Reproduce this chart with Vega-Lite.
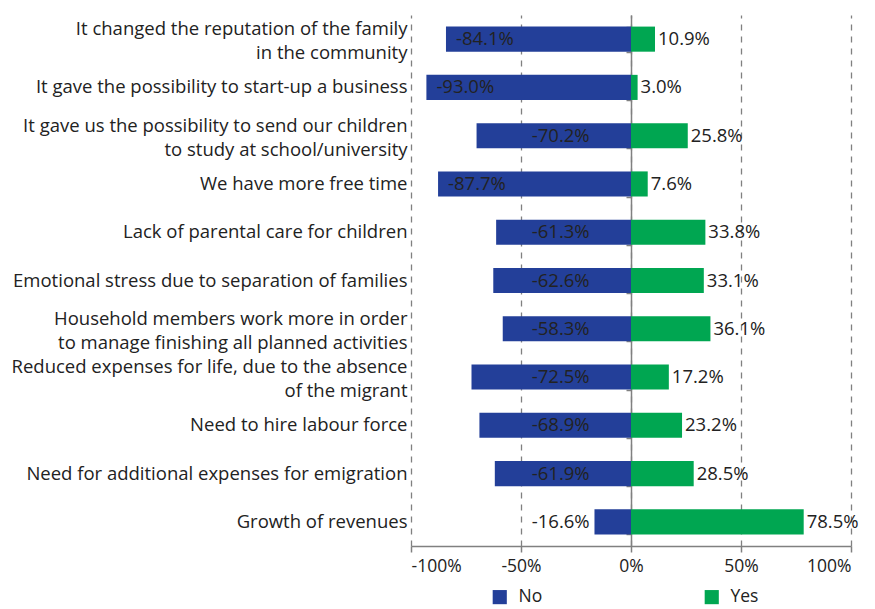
{
  "$schema": "https://vega.github.io/schema/vega-lite/v6.json",
  "width": 440,
  "height": 531,
  "autosize": {"type": "none"},
  "padding": {"left": 411, "top": 15, "right": 24, "bottom": 63},
  "background": "white",
  "config": {
    "view": {"stroke": null},
    "font": "Open Sans"
  },
  "data": {
    "values": [
      {"category": "It changed the reputation of the family|in the community", "response": "No", "value": -84.1},
      {"category": "It changed the reputation of the family|in the community", "response": "Yes", "value": 10.9},
      {"category": "It gave the possibility to start-up a business", "response": "No", "value": -93.0},
      {"category": "It gave the possibility to start-up a business", "response": "Yes", "value": 3.0},
      {"category": "It gave us the possibility to send our children|to study at school/university", "response": "No", "value": -70.2},
      {"category": "It gave us the possibility to send our children|to study at school/university", "response": "Yes", "value": 25.8},
      {"category": "We have more free time", "response": "No", "value": -87.7},
      {"category": "We have more free time", "response": "Yes", "value": 7.6},
      {"category": "Lack of parental care for children", "response": "No", "value": -61.3},
      {"category": "Lack of parental care for children", "response": "Yes", "value": 33.8},
      {"category": "Emotional stress due to separation of families", "response": "No", "value": -62.6},
      {"category": "Emotional stress due to separation of families", "response": "Yes", "value": 33.1},
      {"category": "Household members work more in order|to manage finishing all planned activities", "response": "No", "value": -58.3},
      {"category": "Household members work more in order|to manage finishing all planned activities", "response": "Yes", "value": 36.1},
      {"category": "Reduced expenses for life, due to the absence|of the migrant", "response": "No", "value": -72.5},
      {"category": "Reduced expenses for life, due to the absence|of the migrant", "response": "Yes", "value": 17.2},
      {"category": "Need to hire labour force", "response": "No", "value": -68.9},
      {"category": "Need to hire labour force", "response": "Yes", "value": 23.2},
      {"category": "Need for additional expenses for emigration", "response": "No", "value": -61.9},
      {"category": "Need for additional expenses for emigration", "response": "Yes", "value": 28.5},
      {"category": "Growth of revenues", "response": "No", "value": -16.6},
      {"category": "Growth of revenues", "response": "Yes", "value": 78.5}
    ]
  },
  "transform": [
    {"calculate": "replace(format(datum.value, '.1f'), '\u2212', '-') + '%'", "as": "label"}
  ],
  "resolve": {"axis": {"y": "independent"}},
  "layer": [
    {
      "mark": {"type": "bar"},
      "encoding": {
        "y": {
          "field": "category", "type": "nominal", "sort": null,
          "scale": {"paddingInner": 0.48, "paddingOuter": 0.24},
          "axis": {
            "title": null, "domain": false, "ticks": false, "labelPadding": 4,
            "labelFont": "Open Sans", "labelFontSize": 18.5, "labelColor": "#222",
            "labelExpr": "split(datum.label, '|')", "labelLineHeight": 24,
            "labelBaseline": "middle", "labelLimit": 420,
            "labelOffset": {"expr": "indexof(datum.value, '|') >= 0 ? -10 : 0"}
          }
        },
        "x": {
          "field": "value", "type": "quantitative", "stack": null,
          "scale": {"domain": [-100, 100], "nice": false},
          "axis": {
            "title": null, "values": [-100, -50, 0, 50, 100],
            "labelExpr": "datum.value + '%'", "labelFontSize": 17.5,
            "labelFont": "Open Sans", "labelColor": "#222",
            "domainColor": "#808080", "domainWidth": 1.5,
            "tickColor": "#808080", "tickSize": 6, "tickWidth": 1.5, "labelPadding": 5,
            "grid": true, "gridColor": "#808080", "gridDash": [6, 6], "gridWidth": 1.3
          }
        },
        "color": {
          "field": "response", "type": "nominal",
          "scale": {"domain": ["No", "Yes"], "range": ["#233F99", "#00A651"]},
          "legend": {
            "title": null, "orient": "none", "direction": "horizontal",
            "legendX": 80, "legendY": 573, "columnPadding": 160,
            "symbolType": "square", "symbolSize": 200, "symbolStrokeWidth": 0,
            "labelOffset": 10, "labelFont": "Open Sans", "labelFontSize": 17.5, "labelColor": "#222"
          }
        }
      }
    },
    {
      "transform": [{"filter": "datum.response == 'No' && datum.value < -80"}],
      "mark": {"type": "text", "align": "left", "dx": 10, "fontSize": 18.5, "color": "#222", "font": "Open Sans"},
      "encoding": {
        "y": {"field": "category", "type": "nominal", "sort": null, "axis": null},
        "x": {"field": "value", "type": "quantitative"},
        "text": {"field": "label"}
      }
    },
    {
      "transform": [{"filter": "datum.response == 'No' && datum.value >= -80"}],
      "mark": {"type": "text", "align": "right", "fontSize": 18.5, "color": "#222", "font": "Open Sans"},
      "encoding": {
        "y": {"field": "category", "type": "nominal", "sort": null, "axis": null},
        "x": {"datum": -18.8, "type": "quantitative"},
        "text": {"field": "label"}
      }
    },
    {
      "transform": [{"filter": "datum.response == 'Yes'"}],
      "mark": {"type": "text", "align": "left", "dx": 3, "fontSize": 18.5, "color": "#222", "font": "Open Sans"},
      "encoding": {
        "y": {"field": "category", "type": "nominal", "sort": null, "axis": null},
        "x": {"field": "value", "type": "quantitative"},
        "text": {"field": "label"}
      }
    },
    {
      "mark": {"type": "rule", "color": "#808080", "strokeWidth": 1.5},
      "encoding": {
        "y": {
          "field": "category", "type": "nominal", "sort": null,
          "axis": {
            "orient": "right", "offset": -220, "labels": false, "title": null,
            "domainColor": "#808080", "domainWidth": 1.5, "tickColor": "#808080",
            "tickWidth": 1.5, "tickSize": -5, "tickBand": "extent", "grid": false
          }
        },
        "x": {"datum": 0, "type": "quantitative"},
        "strokeOpacity": {"value": 0}
      }
    }
  ]
}
